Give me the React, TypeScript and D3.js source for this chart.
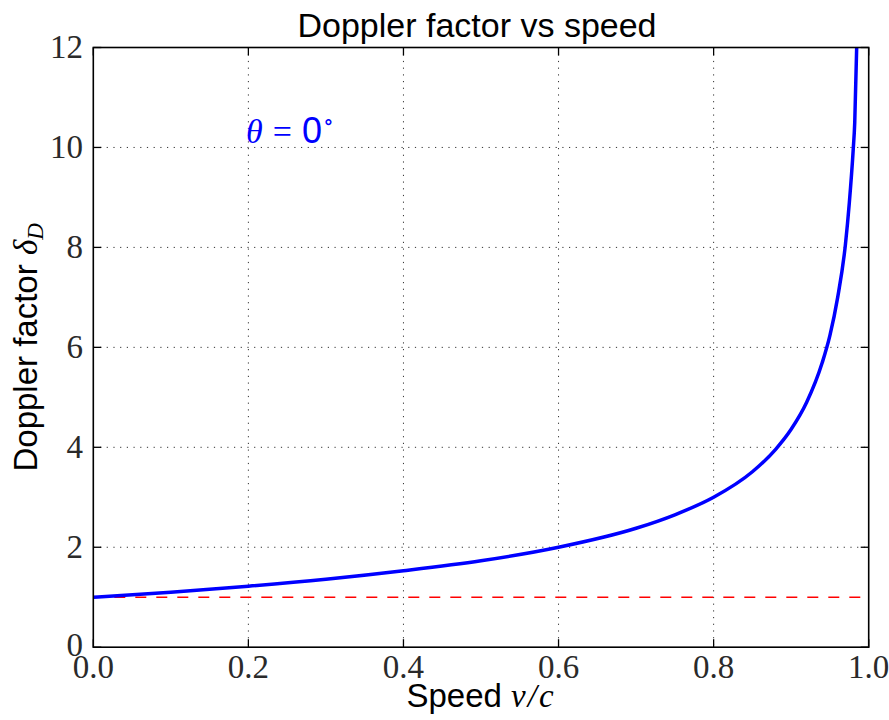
import React from "react";
import * as d3 from "d3";

const speed = [0, 0.1, 0.2, 0.3, 0.4, 0.5, 0.6, 0.7, 0.75, 0.8, 0.85, 0.88, 0.9, 0.92, 0.94, 0.95, 0.96, 0.97, 0.975, 0.98, 0.982, 0.9845];
const doppler = [1.0, 1.1, 1.22, 1.36, 1.53, 1.73, 2.0, 2.38, 2.65, 3.0, 3.51, 3.96, 4.36, 4.9, 5.69, 6.24, 7.0, 8.06, 8.89, 9.95, 10.5, 12.0];
const xTicks = [0, 0.2, 0.4, 0.6, 0.8, 1.0];
const yTicks = [0, 2, 4, 6, 8, 10, 12];
const refLevel = 1;

const W = 889;
const H = 720;
const L = 93.3, R = 868.7, T = 47.5, B = 647.2;

export default function App() {
  const x = d3.scaleLinear().domain([0, 1]).range([L, R]);
  const y = d3.scaleLinear().domain([0, 12]).range([B, T]);
  const pts: [number, number][] = speed.map((s, i) => [s, doppler[i]]);
  const line = d3
    .line<[number, number]>()
    .x((d) => x(d[0]))
    .y((d) => y(d[1]))
    .curve(d3.curveMonotoneX);
  const serif = "'Liberation Serif', 'DejaVu Serif', serif";
  const sans = "'Liberation Sans', Arial, sans-serif";
  const tickLen = 8;
  const cx = (L + R) / 2;
  const cy = (T + B) / 2;
  return (
    <svg width={W} height={H} style={{ position: "absolute", left: 0, top: 0, background: "#fff" }}>
      <defs>
        <clipPath id="plot">
          <rect x={L} y={T} width={R - L} height={B - T} />
        </clipPath>
      </defs>
      <rect x={0} y={0} width={W} height={H} fill="#fff" />
      {/* grid */}
      <g stroke="#333" strokeWidth={1} strokeDasharray="1.2 5.5" fill="none">
        {xTicks.slice(1, -1).map((t) => (
          <line key={"gx" + t} x1={x(t)} x2={x(t)} y1={T} y2={B} />
        ))}
        {yTicks.slice(1, -1).map((t) => (
          <line key={"gy" + t} x1={L} x2={R} y1={y(t)} y2={y(t)} />
        ))}
      </g>
      <g clipPath="url(#plot)">
        <line
          x1={x(0)}
          x2={x(1)}
          y1={y(refLevel)}
          y2={y(refLevel)}
          stroke="#ff0000"
          strokeWidth={1.6}
          strokeDasharray="11 10"
        />
        <path d={line(pts) || ""} fill="none" stroke="#0000ff" strokeWidth={3.5} />
      </g>
      {/* ticks */}
      <g stroke="#000" strokeWidth={1.3}>
        {xTicks.map((t) => (
          <g key={"tx" + t}>
            <line x1={x(t)} x2={x(t)} y1={B} y2={B - tickLen} />
            <line x1={x(t)} x2={x(t)} y1={T} y2={T + tickLen} />
          </g>
        ))}
        {yTicks.map((t) => (
          <g key={"ty" + t}>
            <line x1={L} x2={L + tickLen} y1={y(t)} y2={y(t)} />
            <line x1={R} x2={R - tickLen} y1={y(t)} y2={y(t)} />
          </g>
        ))}
      </g>
      <rect x={L} y={T} width={R - L} height={B - T} fill="none" stroke="#000" strokeWidth={1.6} />
      {/* tick labels */}
      <g fontFamily={serif} fontSize={33} fill="#2a2a2a">
        {xTicks.map((t) => (
          <text key={"lx" + t} x={x(t)} y={678} textAnchor="middle">
            {d3.format(".1f")(t)}
          </text>
        ))}
        {yTicks.map((t) => (
          <text key={"ly" + t} x={83} y={y(t) - (t === 0 ? 2 : 0)} dy="0.33em" textAnchor="end">
            {t}
          </text>
        ))}
      </g>
      {/* title */}
      <text x={477} y={37} textAnchor="middle" fontFamily={sans} fontSize={34} fill="#000">
        Doppler factor vs speed
      </text>
      {/* x label */}
      <text x={cx} y={707} textAnchor="middle" fontFamily={sans} fontSize={33} fill="#000">
        Speed{" "}
        <tspan fontFamily={serif} fontStyle="italic" letterSpacing={2}>v/c</tspan>
      </text>
      {/* y label */}
      <text
        transform={`translate(37,${cy}) rotate(-90)`}
        textAnchor="middle"
        fontFamily={sans}
        fontSize={33}
        fill="#000"
      >
        Doppler factor{" "}
        <tspan fontFamily={serif} fontStyle="italic">δ</tspan>
        <tspan fontFamily={serif} fontStyle="italic" fontSize={23} dy={6}>D</tspan>
      </text>
      {/* annotation */}
      <text x={246} y={143} fontSize={34} fill="#0000ff">
        <tspan fontFamily={serif} fontStyle="italic">θ</tspan>
        <tspan fontFamily={serif} dx={10}>=</tspan>
        <tspan fontFamily={sans} fontSize={36} dx={10}>0</tspan>
        <tspan fontFamily={serif} fontSize={22} dx={1} dy={-14}>∘</tspan>
      </text>
    </svg>
  );
}
